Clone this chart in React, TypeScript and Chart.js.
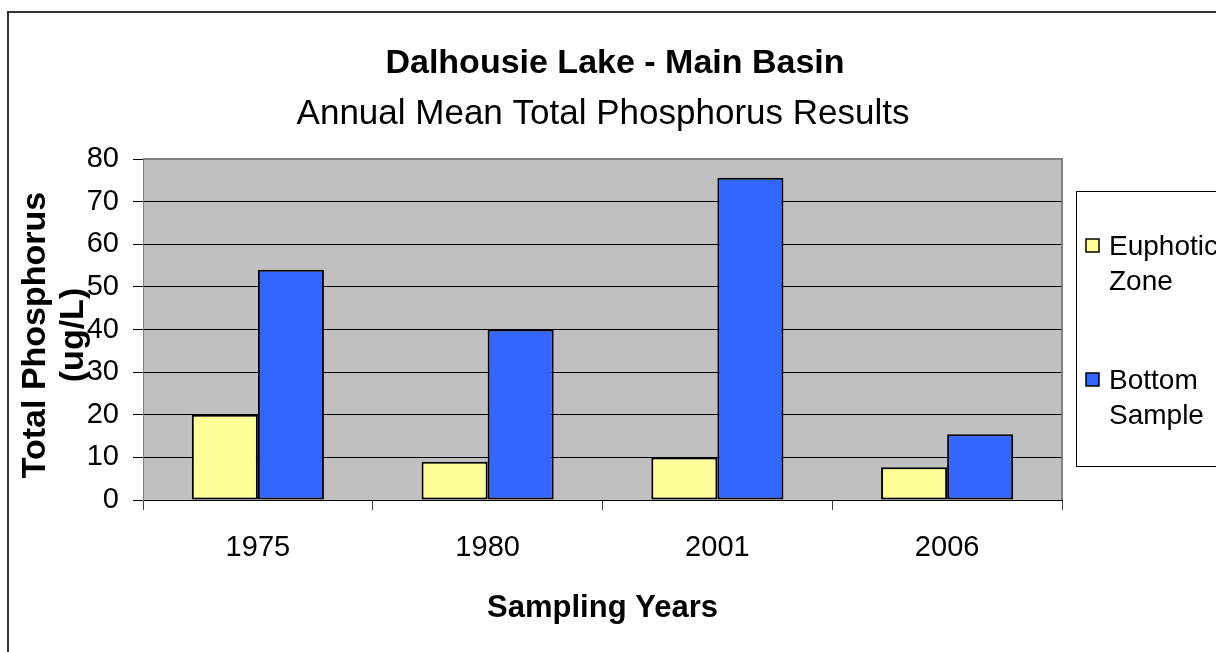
import { useEffect, useRef } from 'react';
import { Chart, registerables } from 'chart.js';

Chart.register(...registerables);

const categories = ['1975', '1980', '2001', '2006'];
const euphoticZone = [20, 9, 10, 7.7];
const bottomSample = [54, 40, 75.6, 15.4];
const seriesLabels = [['Euphotic', 'Zone'], ['Bottom', 'Sample']];
const seriesColors = ['#FFFF99', '#3366FF'];
const yMin = 0;
const yMax = 80;
const yStep = 10;
const titleText = 'Dalhousie Lake - Main Basin';
const subtitleText = 'Annual Mean Total Phosphorus Results';
const xTitleText = 'Sampling Years';
const yTitleLines = ['Total Phosphorus', '(ug/L)'];

const FONT = '"Liberation Sans", Arial, sans-serif';

const decorPlugin = {
  id: 'decor',
  beforeDraw(chart: any) {
    const { ctx, chartArea: a } = chart;
    ctx.save();
    ctx.fillStyle = '#ffffff';
    ctx.fillRect(0, 0, chart.width, chart.height);
    ctx.fillStyle = '#C0C0C0';
    ctx.fillRect(a.left, a.top, a.right - a.left, a.bottom - a.top);
    ctx.restore();
  },
  afterDraw(chart: any) {
    const { ctx, chartArea: a } = chart;
    ctx.save();
    // plot area top/right border
    ctx.strokeStyle = '#808080';
    ctx.lineWidth = 2;
    ctx.beginPath();
    ctx.moveTo(a.left, a.top);
    ctx.lineTo(a.right, a.top);
    ctx.lineTo(a.right, a.bottom);
    ctx.stroke();

    // outer chart border
    ctx.strokeStyle = '#333333';
    ctx.lineWidth = 2;
    ctx.strokeRect(8, 12, 1400, 1000);

    ctx.fillStyle = '#000';
    ctx.textBaseline = 'alphabetic';
    ctx.textAlign = 'center';
    // titles
    ctx.font = `bold 34px ${FONT}`;
    ctx.fillText(titleText, 615, 73);
    ctx.font = `35px ${FONT}`;
    ctx.fillText(subtitleText, 603, 124);

    // x axis title
    ctx.font = `bold 31px ${FONT}`;
    ctx.fillText(xTitleText, (a.left + a.right) / 2, 617);

    // y axis title
    ctx.save();
    ctx.translate(0, 335);
    ctx.rotate(-Math.PI / 2);
    ctx.font = `bold 34px ${FONT}`;
    ctx.fillText(yTitleLines[0], 0, 45);
    ctx.fillText(yTitleLines[1], 0, 83);
    ctx.restore();

    // legend
    ctx.strokeStyle = '#000';
    ctx.lineWidth = 1;
    ctx.strokeRect(1076.5, 191.5, 300, 275);
    const items = [
      { lines: seriesLabels[0], color: seriesColors[0], base: 255 },
      { lines: seriesLabels[1], color: seriesColors[1], base: 389 },
    ];
    ctx.font = `28px ${FONT}`;
    ctx.textAlign = 'left';
    items.forEach((it) => {
      ctx.fillStyle = it.color;
      ctx.fillRect(1086, it.base - 16, 13, 13);
      ctx.strokeStyle = '#000';
      ctx.lineWidth = 1.5;
      ctx.strokeRect(1086, it.base - 16, 13, 13);
      ctx.fillStyle = '#000';
      it.lines.forEach((ln, i) => {
        ctx.fillText(ln, 1109, it.base + i * 35);
      });
    });
    ctx.restore();
  },
};

export default function App() {
  const ref = useRef<HTMLCanvasElement>(null);
  useEffect(() => {
    if (!ref.current) return;
    const chart = new Chart(ref.current, {
      type: 'bar',
      data: {
        labels: categories,
        datasets: [
          {
            label: seriesLabels[0].join(' '),
            data: euphoticZone,
            backgroundColor: seriesColors[0],
            borderColor: '#000',
            borderWidth: 2,
            borderSkipped: false,
            categoryPercentage: 0.575,
            barPercentage: 1,
          },
          {
            label: seriesLabels[1].join(' '),
            data: bottomSample,
            backgroundColor: seriesColors[1],
            borderColor: '#000',
            borderWidth: 2,
            borderSkipped: false,
            categoryPercentage: 0.575,
            barPercentage: 1,
          },
        ],
      },
      options: {
        animation: false,
        responsive: false,
        maintainAspectRatio: false,
        devicePixelRatio: 1,
        layout: { padding: { left: 0, top: 159, right: 154, bottom: 0 } },
        plugins: {
          legend: { display: false },
          title: { display: false },
          tooltip: { enabled: false },
        },
        scales: {
          x: {
            grid: {
              offset: true,
              drawOnChartArea: false,
              drawTicks: true,
              tickLength: 10,
              color: '#404040',
            },
            border: { color: '#000', width: 1 },
            ticks: { color: '#000', font: { family: FONT, size: 29 }, padding: 21 },
            afterFit: (s: any) => {
              s.height = 152;
            },
          },
          y: {
            min: yMin,
            max: yMax,
            ticks: { stepSize: yStep, color: '#000', font: { family: FONT, size: 29 }, padding: 14 },
            grid: { color: '#000', tickLength: 10, drawTicks: true },
            border: { color: '#808080', width: 1 },
            afterFit: (s: any) => {
              s.width = 143;
            },
          },
        },
      },
      plugins: [decorPlugin],
    });
    return () => chart.destroy();
  }, []);
  return (
    <div style={{ position: 'fixed', left: 0, top: 0, width: 1216, height: 652, overflow: 'hidden', background: '#fff' }}>
      <canvas ref={ref} width={1216} height={652} style={{ display: 'block', width: 1216, height: 652 }} />
    </div>
  );
}
